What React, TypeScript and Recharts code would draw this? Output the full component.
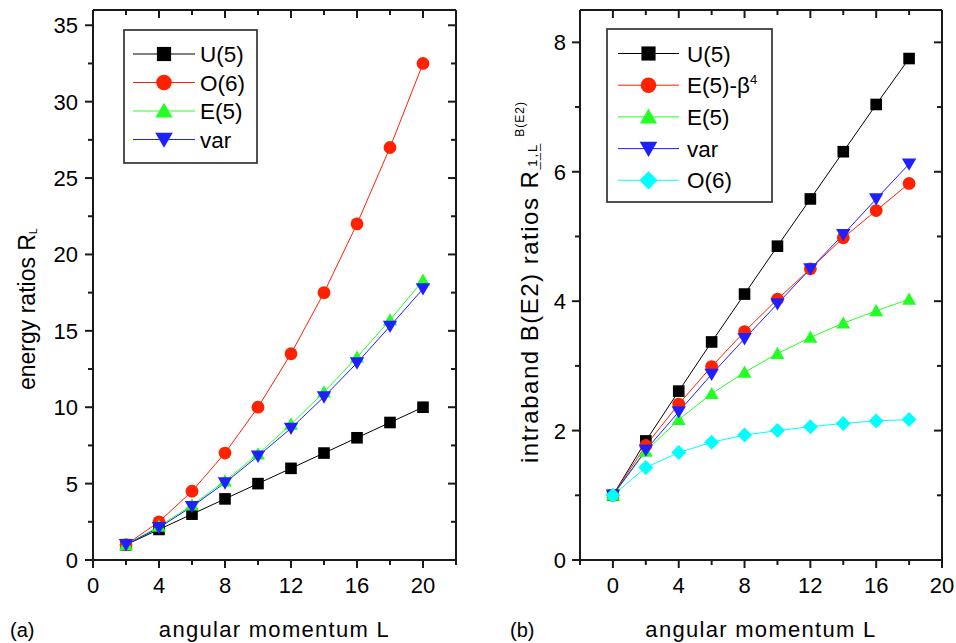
import React from 'react';
import { LineChart, Line, XAxis, YAxis, Legend } from 'recharts';

const FONT = "'Liberation Sans', Arial, Helvetica, sans-serif";
const AXIS = '#1a1a1a';

// ---------- Panel (a): energy ratios ----------
const energyL = [2, 4, 6, 8, 10, 12, 14, 16, 18, 20];
const energyU5 = [1, 2, 3, 4, 5, 6, 7, 8, 9, 10];
const energyO6 = [1, 2.5, 4.5, 7, 10, 13.5, 17.5, 22, 27, 32.5];
const energyE5 = [1, 2.2, 3.59, 5.17, 6.93, 8.88, 10.99, 13.27, 15.71, 18.3];
const energyVar = [1, 2.12, 3.5, 5.05, 6.8, 8.62, 10.68, 12.9, 15.3, 17.75];
const energyXTicks = [0, 2, 4, 6, 8, 10, 12, 14, 16, 18, 20, 22];
const energyYTicks = [0, 2.5, 5, 7.5, 10, 12.5, 15, 17.5, 20, 22.5, 25, 27.5, 30, 32.5, 35];

// ---------- Panel (b): intraband B(E2) ratios ----------
const be2L = [0, 2, 4, 6, 8, 10, 12, 14, 16, 18];
const be2U5 = [1, 1.84, 2.61, 3.37, 4.11, 4.85, 5.58, 6.31, 7.04, 7.75];
const be2E5b4 = [1, 1.77, 2.41, 2.99, 3.53, 4.03, 4.5, 4.98, 5.4, 5.82];
const be2E5 = [1, 1.68, 2.17, 2.57, 2.9, 3.19, 3.44, 3.66, 3.85, 4.03];
const be2Var = [1, 1.7, 2.29, 2.87, 3.42, 3.96, 4.5, 5.03, 5.58, 6.12];
const be2O6 = [1, 1.43, 1.66, 1.82, 1.93, 2.0, 2.06, 2.11, 2.15, 2.17];
const be2XTicks = [-2, 0, 2, 4, 6, 8, 10, 12, 14, 16, 18, 20];
const be2YTicks = [0, 1, 2, 3, 4, 5, 6, 7, 8];

type Shape = 'square' | 'circle' | 'up' | 'down' | 'diamond';
type SeriesDef = { key: string; label: React.ReactNode; values: number[]; color: string; shape: Shape };

const energySeries: SeriesDef[] = [
  { key: 'u5', label: 'U(5)', values: energyU5, color: '#000000', shape: 'square' },
  { key: 'o6', label: 'O(6)', values: energyO6, color: '#ff2200', shape: 'circle' },
  { key: 'e5', label: 'E(5)', values: energyE5, color: '#22ff22', shape: 'up' },
  { key: 'var', label: 'var', values: energyVar, color: '#2020ff', shape: 'down' },
];

const be2Series: SeriesDef[] = [
  { key: 'u5', label: 'U(5)', values: be2U5, color: '#000000', shape: 'square' },
  {
    key: 'e5b4',
    label: (
      <>
        E(5)-β<tspan dy={-9} fontSize={13}>4</tspan>
      </>
    ),
    values: be2E5b4,
    color: '#ff2200',
    shape: 'circle',
  },
  { key: 'e5', label: 'E(5)', values: be2E5, color: '#22ff22', shape: 'up' },
  { key: 'var', label: 'var', values: be2Var, color: '#2020ff', shape: 'down' },
  { key: 'o6', label: 'O(6)', values: be2O6, color: '#00ffff', shape: 'diamond' },
];

function buildRows(xs: number[], series: SeriesDef[]) {
  return xs.map((L, i) => {
    const row: Record<string, number> = { L };
    series.forEach((s) => {
      row[s.key] = s.values[i];
    });
    return row;
  });
}

const energyData = buildRows(energyL, energySeries);
const be2Data = buildRows(be2L, be2Series);

function Marker({ shape, cx, cy, color, s = 1 }: { shape: Shape; cx: number; cy: number; color: string; s?: number }) {
  switch (shape) {
    case 'square':
      return <rect x={cx - 5.8 * s} y={cy - 5.8 * s} width={11.6 * s} height={11.6 * s} fill={color} />;
    case 'circle':
      return <circle cx={cx} cy={cy} r={6.4 * s} fill={color} />;
    case 'up':
      return (
        <polygon
          points={`${cx},${cy - 6.8 * s} ${cx - 7 * s},${cy + 5.4 * s} ${cx + 7 * s},${cy + 5.4 * s}`}
          fill={color}
        />
      );
    case 'down':
      return (
        <polygon
          points={`${cx - 7.2 * s},${cy - 5.6 * s} ${cx + 7.2 * s},${cy - 5.6 * s} ${cx},${cy + 6.8 * s}`}
          fill={color}
        />
      );
    case 'diamond':
    default:
      return (
        <polygon
          points={`${cx},${cy - 7.5 * s} ${cx + 7.5 * s},${cy} ${cx},${cy + 7.5 * s} ${cx - 7.5 * s},${cy}`}
          fill={color}
        />
      );
  }
}

type Side = 'bottom' | 'top' | 'left' | 'right';

function makeTick(side: Side, majorEvery: number, showLabels: boolean, labelGap: number) {
  return (props: any) => {
    const { x, y, payload } = props;
    const v = payload.value as number;
    const q = v / majorEvery;
    const major = Math.abs(q - Math.round(q)) < 1e-6;
    const len = major ? 8 : 5;
    let x2 = x;
    let y2 = y;
    if (side === 'bottom' || side === 'top') y2 = y + len;
    if (side === 'left' || side === 'right') x2 = x - len;
    return (
      <g>
        <line x1={x} y1={y} x2={x2} y2={y2} stroke={AXIS} strokeWidth={2} />
        {showLabels && major && side === 'bottom' && (
          <text x={x} y={y + labelGap} textAnchor="middle" fontSize={22} fontFamily={FONT} fill="#000">
            {v}
          </text>
        )}
        {showLabels && major && side === 'left' && (
          <text x={x - labelGap} y={y + 8} textAnchor="end" fontSize={22} fontFamily={FONT} fill="#000">
            {v}
          </text>
        )}
      </g>
    );
  };
}

function LegendBox({
  series,
  width,
  height,
  rowY,
  lineX1,
  lineX2,
  textX,
}: {
  series: SeriesDef[];
  width: number;
  height: number;
  rowY: number[];
  lineX1: number;
  lineX2: number;
  textX: number;
}) {
  const mx = (lineX1 + lineX2) / 2;
  return (
    <svg width={width} height={height} style={{ display: 'block', overflow: 'visible' }}>
      <rect x={1} y={1} width={width - 2} height={height - 2} fill="#ffffff" stroke="#333333" strokeWidth={1.7} />
      {series.map((s, i) => (
        <g key={s.key}>
          <line x1={lineX1} x2={lineX2} y1={rowY[i]} y2={rowY[i]} stroke={s.color} strokeWidth={1} />
          <Marker shape={s.shape} cx={mx} cy={rowY[i]} color={s.color} s={1.22} />
          <text x={textX} y={rowY[i] + 8} fontSize={22.5} fontFamily={FONT} fill="#000">
            {s.label}
          </text>
        </g>
      ))}
    </svg>
  );
}

function dotFor(s: SeriesDef) {
  return (p: any) => <Marker key={`${s.key}-${p.index}`} shape={s.shape} cx={p.cx} cy={p.cy} color={s.color} />;
}

const axisLineStyle = { stroke: AXIS, strokeWidth: 2 };

export default function App() {
  return (
    <div style={{ position: 'absolute', left: 0, top: 0, width: 956, height: 643, background: '#ffffff', fontFamily: FONT }}>
      {/* Panel (a) */}
      <div style={{ position: 'absolute', left: 0, top: 0 }}>
        <LineChart width={478} height={643} data={energyData} margin={{ top: 9, right: 21, bottom: 43, left: 33 }}>
          <XAxis
            xAxisId={0}
            dataKey="L"
            type="number"
            domain={[0, 22]}
            ticks={energyXTicks}
            interval={0}
            height={40}
            tickSize={0}
            tickMargin={0}
            tickLine={false}
            axisLine={axisLineStyle}
            tick={makeTick('bottom', 4, true, 33)}
            label={() => (
              <g>
                <text x={274.5} y={637} textAnchor="middle" fontSize={22} fontFamily={FONT} letterSpacing={1.3} fill="#000">
                  angular momentum L
                </text>
                <text x={10} y={637} fontSize={20} fontFamily={FONT} fill="#000">
                  (a)
                </text>
              </g>
            )}
          />
          <XAxis
            xAxisId="top"
            orientation="top"
            dataKey="L"
            type="number"
            domain={[0, 22]}
            allowDataOverflow
            ticks={energyXTicks}
            interval={0}
            height={1}
            tickSize={0}
            tickMargin={0}
            tickLine={false}
            axisLine={axisLineStyle}
            tick={makeTick('top', 4, false, 0)}
          />
          <YAxis
            yAxisId={0}
            type="number"
            domain={[0, 36]}
            ticks={energyYTicks}
            interval={0}
            width={60}
            tickSize={0}
            tickMargin={0}
            tickLine={false}
            axisLine={axisLineStyle}
            tick={makeTick('left', 5, true, 15)}
            label={() => (
              <text transform="rotate(-90 35 390)" x={35} y={390} fontSize={23} fontFamily={FONT} fill="#000">
                energy ratios R
                <tspan dy={2} fontSize={10}>
                  L
                </tspan>
              </text>
            )}
          />
          <YAxis
            yAxisId="right"
            orientation="right"
            type="number"
            domain={[0, 36]}
            allowDataOverflow
            ticks={energyYTicks}
            interval={0}
            width={1}
            tickSize={0}
            tickMargin={0}
            tickLine={false}
            axisLine={axisLineStyle}
            tick={makeTick('right', 5, false, 0)}
          />
          {energySeries.map((s) => (
            <Line
              key={s.key}
              xAxisId={0}
              yAxisId={0}
              type="linear"
              dataKey={s.key}
              name={s.key}
              stroke={s.color}
              strokeWidth={1}
              dot={dotFor(s)}
              activeDot={false}
              isAnimationActive={false}
            />
          ))}
          <Legend
            layout="vertical"
            align="center"
            verticalAlign="middle"
            wrapperStyle={{ left: 123, top: 29, width: 135, height: 135 }}
            content={() => (
              <LegendBox
                series={energySeries}
                width={135}
                height={135}
                rowY={[25, 53.5, 82, 110.5]}
                lineX1={10}
                lineX2={72}
                textX={77}
              />
            )}
          />
        </LineChart>
      </div>

      {/* Panel (b) */}
      <div style={{ position: 'absolute', left: 478, top: 0 }}>
        <LineChart width={478} height={643} data={be2Data} margin={{ top: 9, right: 13, bottom: 43, left: 42 }}>
          <XAxis
            xAxisId={0}
            dataKey="L"
            type="number"
            domain={[-2, 20]}
            ticks={be2XTicks}
            interval={0}
            height={40}
            tickSize={0}
            tickMargin={0}
            tickLine={false}
            axisLine={axisLineStyle}
            tick={makeTick('bottom', 4, true, 33)}
            label={() => (
              <g>
                <text x={283} y={637} textAnchor="middle" fontSize={22} fontFamily={FONT} letterSpacing={1.3} fill="#000">
                  angular momentum L
                </text>
                <text x={32} y={637} fontSize={20} fontFamily={FONT} fill="#000">
                  (b)
                </text>
              </g>
            )}
          />
          <XAxis
            xAxisId="top"
            orientation="top"
            dataKey="L"
            type="number"
            domain={[-2, 20]}
            allowDataOverflow
            ticks={be2XTicks}
            interval={0}
            height={1}
            tickSize={0}
            tickMargin={0}
            tickLine={false}
            axisLine={axisLineStyle}
            tick={makeTick('top', 4, false, 0)}
          />
          <YAxis
            yAxisId={0}
            type="number"
            domain={[0, 8.5]}
            ticks={be2YTicks}
            interval={0}
            width={60}
            tickSize={0}
            tickMargin={0}
            tickLine={false}
            axisLine={axisLineStyle}
            tick={makeTick('left', 2, true, 14)}
            label={() => (
              <text transform="rotate(-90 60 463)" x={60} y={463} fontSize={24} letterSpacing={1.5} fontFamily={FONT} fill="#000">
                intraband B(E2) ratios R
                <tspan fontSize={13} letterSpacing={2}>
                  ___
                </tspan>
                <tspan dx={-25} dy={-1} fontSize={13} letterSpacing={2}>
                  1,L
                </tspan>
                <tspan dx={6} dy={-13} fontSize={12} letterSpacing={1}>
                  B(E2)
                </tspan>
              </text>
            )}
          />
          <YAxis
            yAxisId="right"
            orientation="right"
            type="number"
            domain={[0, 8.5]}
            allowDataOverflow
            ticks={be2YTicks}
            interval={0}
            width={1}
            tickSize={0}
            tickMargin={0}
            tickLine={false}
            axisLine={axisLineStyle}
            tick={makeTick('right', 2, false, 0)}
          />
          {be2Series.map((s) => (
            <Line
              key={s.key}
              xAxisId={0}
              yAxisId={0}
              type="linear"
              dataKey={s.key}
              name={s.key}
              stroke={s.color}
              strokeWidth={1}
              dot={dotFor(s)}
              activeDot={false}
              isAnimationActive={false}
            />
          ))}
          <Legend
            layout="vertical"
            align="center"
            verticalAlign="middle"
            wrapperStyle={{ left: 128, top: 28, width: 167, height: 175 }}
            content={() => (
              <LegendBox
                series={be2Series}
                width={167}
                height={175}
                rowY={[25.5, 57.2, 88.9, 120.6, 152.3]}
                lineX1={12}
                lineX2={73}
                textX={81}
              />
            )}
          />
        </LineChart>
      </div>
    </div>
  );
}
